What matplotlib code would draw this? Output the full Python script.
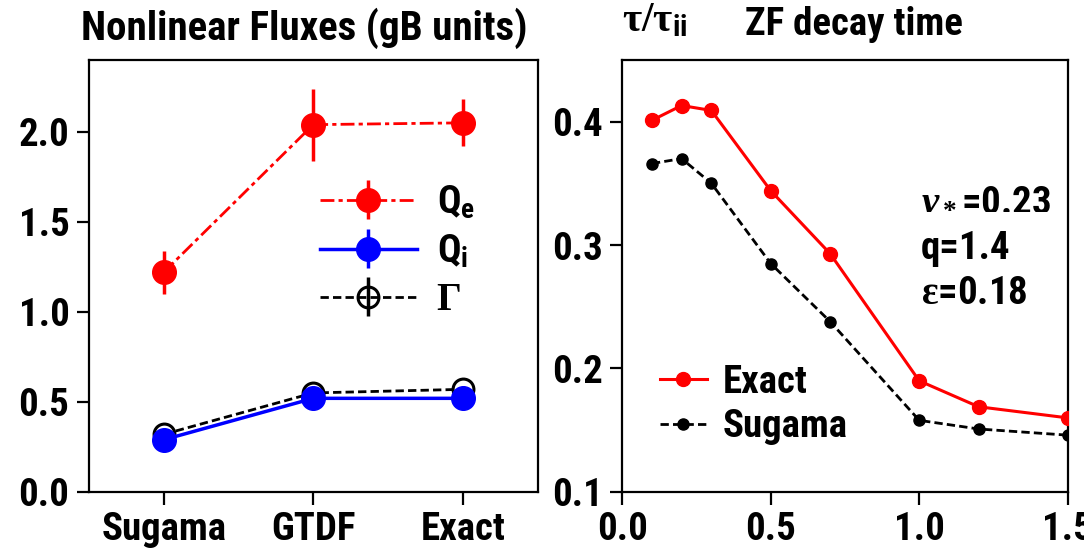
import matplotlib
matplotlib.use("Agg")
import matplotlib.pyplot as plt
from matplotlib import font_manager as fm
import numpy as np

# ---------------- data ----------------
models = ["Sugama", "GTDF", "Exact"]
Qe = [1.22, 2.04, 2.05]
Qe_err = [0.12, 0.20, 0.13]
Qi = [0.29, 0.52, 0.52]
Qi_err = [0.02, 0.02, 0.02]
Gamma = [0.32, 0.55, 0.57]
Gamma_err = [0.02, 0.02, 0.02]

eps_x = [0.1, 0.2, 0.3, 0.5, 0.7, 1.0, 1.2, 1.5]
tau_exact = [0.401, 0.413, 0.409, 0.344, 0.293, 0.190, 0.169, 0.160]
tau_sugama = [0.366, 0.370, 0.350, 0.285, 0.238, 0.158, 0.151, 0.146]

left_yticks = [0.0, 0.5, 1.0, 1.5, 2.0]
right_yticks = [0.1, 0.2, 0.3, 0.4]
right_xticks = [0.0, 0.5, 1.0, 1.5]

# ---------------- font selection ----------------
names = {f.name for f in fm.fontManager.ttflist}
condensed = [f for f in fm.fontManager.ttflist
             if f.name == "DejaVu Sans" and "condensed" in str(f.stretch).lower()]
STRETCH = "normal"
if "Liberation Sans Narrow" in names:
    FAM = "Liberation Sans Narrow"
elif "Roboto Condensed" in names:
    FAM = "Roboto Condensed"
elif condensed:
    FAM = "DejaVu Sans"
    STRETCH = "condensed"
else:
    FAM = "Liberation Sans"

plt.rcParams["font.family"] = [FAM, "DejaVu Sans"]
plt.rcParams["font.stretch"] = STRETCH
plt.rcParams["font.weight"] = "bold"
plt.rcParams["mathtext.fontset"] = "custom"
plt.rcParams["mathtext.rm"] = "Liberation Serif:bold"
plt.rcParams["mathtext.it"] = "Liberation Serif:bold:italic"
plt.rcParams["mathtext.bf"] = "Liberation Serif:bold"
plt.rcParams["mathtext.sf"] = FAM + ":bold"

FS = 28
fig = plt.figure(figsize=(10.84, 5.54), dpi=100)
ax1 = fig.add_axes([0.082, 0.112, 0.414, 0.780])
ax2 = fig.add_axes([0.574, 0.112, 0.411, 0.780])

for ax in (ax1, ax2):
    for s in ax.spines.values():
        s.set_linewidth(1.6)
    ax.tick_params(direction="out", length=9, width=1.6, labelsize=FS, pad=5)

# ---------------- left panel ----------------
x = np.arange(len(models))
ax1.errorbar(x, Qe, yerr=Qe_err, color="red", ecolor="red", linestyle=(0, (5, 1.5, 1.5, 1.5)),
             lw=2, elinewidth=2.5, marker="o", ms=17, capsize=0, label=r"Q$_\mathsf{e}$", zorder=3)
ax1.errorbar(x, Gamma, yerr=Gamma_err, color="black", ecolor="black", linestyle=(0, (3, 1.5)),
             lw=2, elinewidth=2.5, marker="o", ms=15, mfc="none", mec="black", mew=2.2,
             capsize=0, label="Γ", zorder=2)
ax1.errorbar(x, Qi, yerr=Qi_err, color="blue", ecolor="blue", linestyle="-",
             lw=2.5, elinewidth=2.5, marker="o", ms=17, capsize=0, label=r"Q$_\mathsf{i}$", zorder=4)

ax1.set_xlim(-0.5, 2.5)
ax1.set_ylim(0, 2.4)
ax1.set_xticks(x)
ax1.set_xticklabels(models, fontsize=FS, fontweight="bold")
ax1.set_yticks(left_yticks)
ax1.set_yticklabels([f"{v:.1f}" for v in left_yticks], fontsize=FS, fontweight="bold")

h, l = ax1.get_legend_handles_labels()
order = [0, 2, 1]
leg1 = ax1.legend([h[i] for i in order], [l[i] for i in order], loc="upper left",
                  bbox_to_anchor=(0.48, 0.75), frameon=False, fontsize=FS,
                  handlelength=2.5, handletextpad=0.5, labelspacing=0.3, borderaxespad=0)
leg1.get_texts()[2].set_fontfamily("Liberation Serif")
ax1.set_title("Nonlinear Fluxes (gB units)", fontsize=29.5, fontweight="bold", pad=14, x=0.48)

# ---------------- right panel ----------------
ax2.plot(eps_x, tau_exact, color="red", lw=2.2, marker="o", ms=10, label="Exact", zorder=3)
ax2.plot(eps_x, tau_sugama, color="black", lw=2, linestyle=(0, (3, 1.5)), marker="o", ms=8,
         label="Sugama", zorder=2)
ax2.set_xlim(0, 1.5)
ax2.set_ylim(0.1, 0.45)
ax2.set_xticks(right_xticks)
ax2.set_xticklabels([f"{v:.1f}" for v in right_xticks], fontsize=FS, fontweight="bold")
ax2.set_yticks(right_yticks)
ax2.set_yticklabels([f"{v:.1f}" for v in right_yticks], fontsize=FS, fontweight="bold")

ax2.legend(loc="lower left", bbox_to_anchor=(0.05, 0.072), frameon=False, fontsize=FS,
           handlelength=1.2, handletextpad=0.4, labelspacing=0.2, borderaxespad=0)

ax2.text(0.0, 1.045, r"$\mathrm{\tau/\tau}_{\mathsf{ii}}$", transform=ax2.transAxes,
         fontsize=30, ha="left", va="bottom")
ax2.text(0.52, 1.04, "ZF decay time", transform=ax2.transAxes, fontsize=FS,
         fontweight="bold", ha="center", va="bottom")

ax2.text(0.67, 0.68, r"$\nu_*$=0.23", transform=ax2.transAxes, fontsize=FS,
         fontweight="bold", ha="left", va="center")
ax2.text(0.67, 0.5625, "q=1.4", transform=ax2.transAxes, fontsize=FS,
         fontweight="bold", ha="left", va="center")
ax2.text(0.67, 0.46, r"$\mathrm{\varepsilon}$=0.18", transform=ax2.transAxes, fontsize=FS,
         fontweight="bold", ha="left", va="center")

fig.savefig("out.png", dpi=100)
